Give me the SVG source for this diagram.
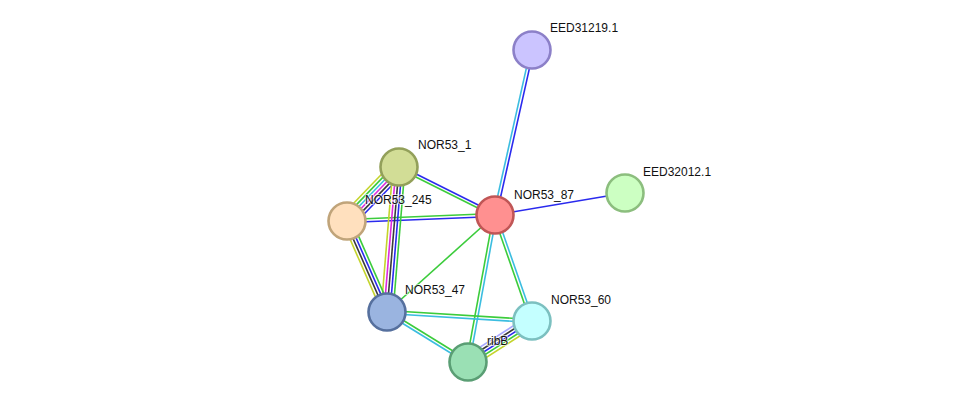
<svg xmlns="http://www.w3.org/2000/svg" width="976" height="408" viewBox="0 0 976 408">
<style>
.e line{stroke-width:1.6;fill:none}
.g{stroke:#3ccc3c}.b{stroke:#2a2aee}.c{stroke:#3bbde0}.y{stroke:#c4d42c}.m{stroke:#dd2add}.k{stroke:#3a3a3a}.l{stroke:#a8a8ff}
.n circle{stroke-width:2.6}
text{font-family:"Liberation Sans",Arial,sans-serif;font-size:12px;fill:#111;stroke:#fff;stroke-width:2;stroke-opacity:0.6;paint-order:stroke}
</style>
<rect width="976" height="408" fill="#fff"/>
<g id="connectors" class="e">
<line class="c" x1="493.53" y1="214.68" x2="530.53" y2="49.68"/>
<line class="b" x1="496.47" y1="215.32" x2="533.47" y2="50.32"/>
<line class="b" x1="495" y1="215" x2="625" y2="193"/>
<line class="b" x1="495.67" y1="213.66" x2="399.67" y2="165.66"/>
<line class="g" x1="494.33" y1="216.34" x2="398.33" y2="168.34"/>
<line class="g" x1="495" y1="213.5" x2="347" y2="219.5"/>
<line class="b" x1="495" y1="216.5" x2="347" y2="222.5"/>
<line class="g" x1="495" y1="215" x2="387" y2="312"/>
<line class="g" x1="493.58" y1="215.49" x2="530.58" y2="321.49"/>
<line class="c" x1="496.42" y1="214.51" x2="533.42" y2="320.51"/>
<line class="g" x1="493.52" y1="214.73" x2="466.52" y2="361.73"/>
<line class="c" x1="496.48" y1="215.27" x2="469.48" y2="362.27"/>
<line class="y" x1="393.6" y1="161.8" x2="341.6" y2="215.8"/>
<line class="g" x1="395.76" y1="163.88" x2="343.76" y2="217.88"/>
<line class="c" x1="397.92" y1="165.96" x2="345.92" y2="219.96"/>
<line class="m" x1="400.08" y1="168.04" x2="348.08" y2="222.04"/>
<line class="k" x1="402.24" y1="170.12" x2="350.24" y2="224.12"/>
<line class="b" x1="404.4" y1="172.2" x2="352.4" y2="226.2"/>
<line class="y" x1="393.02" y1="166.5" x2="381.02" y2="311.5"/>
<line class="m" x1="396.01" y1="166.75" x2="384.01" y2="311.75"/>
<line class="k" x1="399" y1="167" x2="387" y2="312"/>
<line class="b" x1="401.99" y1="167.25" x2="389.99" y2="312.25"/>
<line class="g" x1="404.98" y1="167.5" x2="392.98" y2="312.5"/>
<line class="y" x1="342.88" y1="222.81" x2="382.88" y2="313.81"/>
<line class="k" x1="345.63" y1="221.6" x2="385.63" y2="312.6"/>
<line class="b" x1="348.37" y1="220.4" x2="388.37" y2="311.4"/>
<line class="g" x1="351.12" y1="219.19" x2="391.12" y2="310.19"/>
<line class="g" x1="387" y1="310.5" x2="532" y2="319.5"/>
<line class="c" x1="387" y1="313.5" x2="532" y2="322.5"/>
<line class="g" x1="387.79" y1="310.72" x2="468.79" y2="360.72"/>
<line class="c" x1="386.21" y1="313.28" x2="467.21" y2="363.28"/>
<line class="l" x1="528.77" y1="315.95" x2="464.77" y2="356.95"/>
<line class="k" x1="530.38" y1="318.47" x2="466.38" y2="359.47"/>
<line class="b" x1="532" y1="321" x2="468" y2="362"/>
<line class="g" x1="533.62" y1="323.53" x2="469.62" y2="364.53"/>
<line class="y" x1="535.23" y1="326.05" x2="471.23" y2="367.05"/>
</g>
<g id="EED31219.1" class="n"><circle cx="532" cy="50" r="18.5" fill="#cbc4ff" stroke="#8c80c8"/><text x="550" y="32">EED31219.1</text></g>
<g id="EED32012.1" class="n"><circle cx="625" cy="193" r="18.5" fill="#ccffc2" stroke="#8cbe7e"/><text x="643" y="176">EED32012.1</text></g>
<g id="NOR53_1" class="n"><circle cx="399" cy="167" r="18.5" fill="#d2dd96" stroke="#93a05a"/><text x="418" y="149">NOR53_1</text></g>
<g id="NOR53_245" class="n"><circle cx="347" cy="221" r="18.5" fill="#ffe0be" stroke="#c0a47a"/><text x="365" y="204">NOR53_245</text></g>
<g id="NOR53_87" class="n"><circle cx="495" cy="215" r="18.5" fill="#ff9090" stroke="#c05656"/><text x="514" y="199">NOR53_87</text></g>
<g id="NOR53_47" class="n"><circle cx="387" cy="312" r="18.5" fill="#9ab4e0" stroke="#56709e"/><text x="405" y="294">NOR53_47</text></g>
<g id="NOR53_60" class="n"><circle cx="532" cy="321" r="18.5" fill="#c4ffff" stroke="#7cc0c0"/><text x="551" y="304">NOR53_60</text></g>
<g id="ribB" class="n"><circle cx="468" cy="362" r="18.5" fill="#9ae0b4" stroke="#5a9e74"/><text x="487" y="345">ribB</text></g>
</svg>
